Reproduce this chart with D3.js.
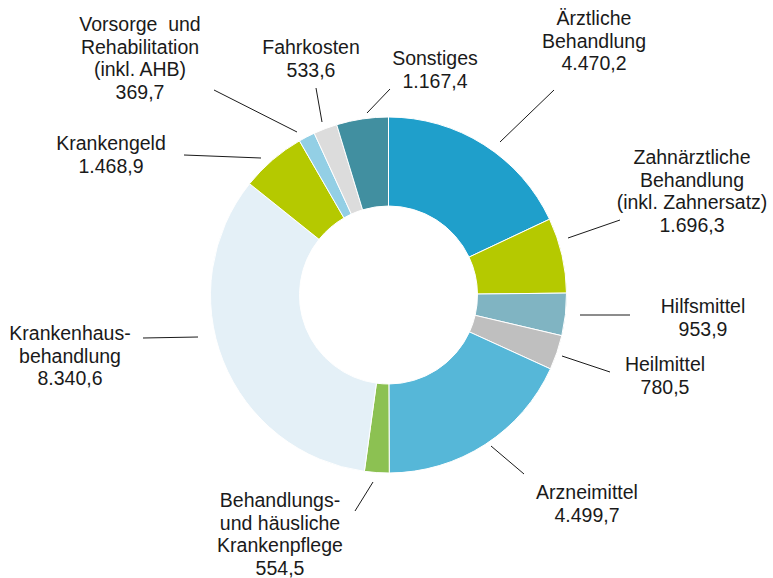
<!DOCTYPE html>
<html>
<head>
<meta charset="utf-8">
<script src="https://cdn.jsdelivr.net/npm/d3@7"></script>
<style>
  body { margin: 0; background: #fff; }
  text { font-family: "Liberation Sans", Arial, sans-serif; fill: #1a1a1a; }
</style>
</head>
<body>
<svg id="chart" width="773" height="578"></svg>
<script>
// Ausgaben je Leistungsbereich (clockwise from 12 o'clock)
const categories = [
  ["Ärztliche", "Behandlung"],
  ["Zahnärztliche", "Behandlung", "(inkl. Zahnersatz)"],
  ["Hilfsmittel"],
  ["Heilmittel"],
  ["Arzneimittel"],
  ["Behandlungs-", "und häusliche", "Krankenpflege"],
  ["Krankenhaus-", "behandlung"],
  ["Krankengeld"],
  ["Vorsorge  und", "Rehabilitation", "(inkl. AHB)"],
  ["Fahrkosten"],
  ["Sonstiges"]
];
const values = [4470.2, 1696.3, 953.9, 780.5, 4499.7, 554.5, 8340.6, 1468.9, 369.7, 533.6, 1167.4];
const colors = ["#1f9fcb", "#b5c900", "#80b4c2", "#bfbfbf", "#56b7d8", "#8cc152",
                "#e4f0f7", "#b5c900", "#93cfe5", "#dcdcdc", "#418fa0"];

// label placement: text centre x, first line y, leader line from (x1,y1) to (x2,y2)
const labelLayout = [
  { x: 594, y: 25,  x1: 500, y1: 142, x2: 554, y2: 90 },
  { x: 692, y: 164, x1: 568, y1: 238, x2: 620, y2: 220 },
  { x: 703, y: 313, x1: 580, y1: 315, x2: 630, y2: 315 },
  { x: 665, y: 371, x1: 562, y1: 356, x2: 610, y2: 372 },
  { x: 587, y: 499, x1: 491, y1: 446, x2: 524, y2: 474 },
  { x: 280, y: 507, x1: 373, y1: 482, x2: 355, y2: 511 },
  { x: 70,  y: 340, x1: 143, y1: 338, x2: 198, y2: 337 },
  { x: 111, y: 150, x1: 184, y1: 155, x2: 261, y2: 158 },
  { x: 140, y: 31,  x1: 214, y1: 90,  x2: 297, y2: 132 },
  { x: 311, y: 54,  x1: 316, y1: 88,  x2: 322, y2: 122 },
  { x: 435, y: 65,  x1: 390, y1: 89,  x2: 367, y2: 113 }
];

const fmt = d3.formatLocale({ decimal: ",", thousands: ".", grouping: [3], currency: ["", ""] }).format(",.1f");

const svg = d3.select("#chart");
const cx = 388.5, cy = 295, outerR = 178, innerR = 89;

const pie = d3.pie().sort(null).value(d => d);
const arc = d3.arc().innerRadius(innerR).outerRadius(outerR);

const g = svg.append("g").attr("transform", `translate(${cx},${cy})`);
g.selectAll("path")
  .data(pie(values))
  .join("path")
  .attr("d", arc)
  .attr("fill", (d, i) => colors[i])
  .attr("stroke", "#fff")
  .attr("stroke-width", 1);

// Führungslinien
svg.append("g").selectAll("line")
  .data(labelLayout)
  .join("line")
  .attr("x1", d => d.x1).attr("y1", d => d.y1)
  .attr("x2", d => d.x2).attr("y2", d => d.y2)
  .attr("stroke", "#1a1a1a")
  .attr("stroke-width", 1);

// Beschriftungen
const lineH = 22.6;
const labels = svg.append("g").selectAll("text")
  .data(categories)
  .join("text")
  .attr("text-anchor", "middle")
  .attr("font-size", "19.5px")
  .attr("x", (d, i) => labelLayout[i].x)
  .attr("y", (d, i) => labelLayout[i].y);

labels.each(function(lines, i) {
  const t = d3.select(this);
  lines.concat([fmt(values[i])]).forEach((s, k) => {
    t.append("tspan")
      .attr("x", labelLayout[i].x)
      .attr("dy", k === 0 ? 0 : lineH)
      .attr("xml:space", "preserve")
      .text(s);
  });
});
</script>
</body>
</html>
